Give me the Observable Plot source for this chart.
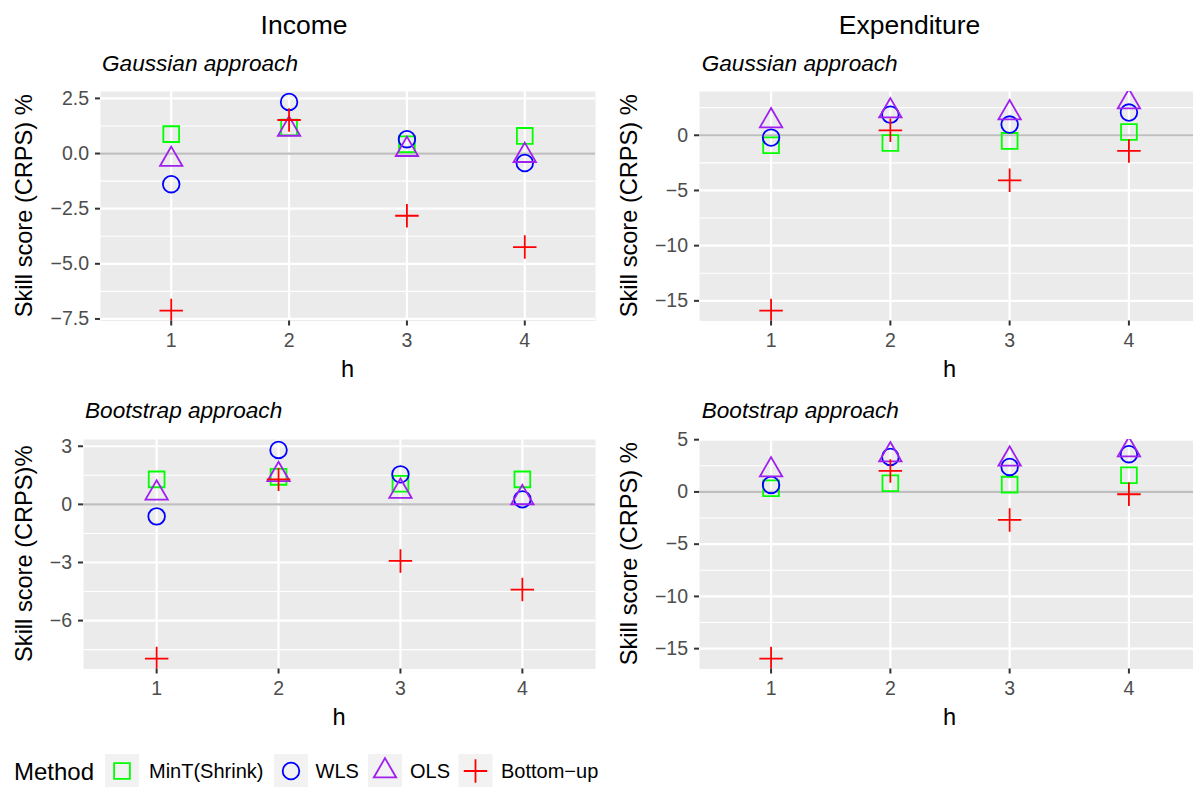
<!DOCTYPE html>
<html><head><meta charset="utf-8">
<script src="https://cdn.jsdelivr.net/npm/d3@7"></script>
<script src="https://cdn.jsdelivr.net/npm/@observablehq/plot@0.6"></script>
<style>
body{margin:0;background:#fff;}
#root{position:relative;width:1193px;height:787px;overflow:hidden;font-family:"Liberation Sans",Arial,Helvetica,sans-serif;background:#fff;}
#root > svg{position:absolute;}
</style></head><body><div id="root"></div>
<script>
// ---------- data ----------
const hs = [1, 2, 3, 4];
const methods = ["MinT(Shrink)", "WLS", "OLS", "Bottom\u2212up"];
const methodColors = ["#00FF00", "#0000FF", "#A020F0", "#FF0000"];

// Income, Gaussian approach
const incGaussMinT = [0.88, 1.18, 0.42, 0.80];
const incGaussWLS  = [-1.39, 2.34, 0.65, -0.43];
const incGaussOLS  = [-0.27, 1.10, 0.18, -0.09];
const incGaussBU   = [-7.12, 1.52, -2.82, -4.24];
// Expenditure, Gaussian approach
const expGaussMinT = [-0.91, -0.70, -0.51, 0.30];
const expGaussWLS  = [-0.21, 1.87, 0.97, 2.06];
const expGaussOLS  = [1.30, 2.20, 2.03, 3.02];
const expGaussBU   = [-15.88, 0.45, -4.08, -1.42];
// Income, Bootstrap approach
const incBootMinT = [1.29, 1.42, 1.06, 1.29];
const incBootWLS  = [-0.62, 2.81, 1.55, 0.26];
const incBootOLS  = [0.58, 1.53, 0.67, 0.34];
const incBootBU   = [-7.96, 1.29, -2.92, -4.40];
// Expenditure, Bootstrap approach
const expBootMinT = [0.35, 0.83, 0.70, 1.60];
const expBootWLS  = [0.67, 3.35, 2.39, 3.61];
const expBootOLS  = [2.10, 3.54, 3.13, 4.02];
const expBootBU   = [-15.95, 2.01, -2.68, -0.22];

// y tick values
const incGaussTicks = [-7.5, -5, -2.5, 0, 2.5];
const expGaussTicks = [-15, -10, -5, 0];
const incBootTicks  = [-6, -3, 0, 3];
const expBootTicks  = [-15, -10, -5, 0, 5];

const colTitles = ["Income", "Expenditure"];
const rowTitles = ["Gaussian approach", "Bootstrap approach"];
const yTitles = ["Skill score (CRPS) %", "Skill score (CRPS) %", "Skill score (CRPS)%", "Skill score (CRPS) %"];
const xTitle = "h";
const legendTitle = "Method";

// ---------- symbols (R pch 0,1,2,3 style) ----------
const symSquare = {draw(ctx, size){const r=Math.sqrt(size/Math.PI), s=0.95*r; ctx.moveTo(-s,-s); ctx.lineTo(s,-s); ctx.lineTo(s,s); ctx.lineTo(-s,s); ctx.closePath();}};
const symCircle = {draw(ctx, size){const r=Math.sqrt(size/Math.PI); ctx.moveTo(r,0); ctx.arc(0,0,r,0,2*Math.PI); ctx.closePath();}};
const symTriangle = {draw(ctx, size){const r=Math.sqrt(size/Math.PI); ctx.moveTo(0,-1.555*r); ctx.lineTo(1.3468*r,0.7776*r); ctx.lineTo(-1.3468*r,0.7776*r); ctx.closePath();}};
const symPlus = {draw(ctx, size){const r=Math.sqrt(size/Math.PI), a=1.414*r; ctx.moveTo(-a,0); ctx.lineTo(a,0); ctx.moveTo(0,-a); ctx.lineTo(0,a);}};
const symbols = [symSquare, symCircle, symTriangle, symPlus];
const R = 8.3, SW = 1.8;

const FONT = '"Liberation Sans",Arial,Helvetica,sans-serif';
const root = document.getElementById("root");

const panels = [
  {series:[incGaussMinT,incGaussWLS,incGaussOLS,incGaussBU], ticks:incGaussTicks, fmt:d3.format(".1f"), left:0,   top:81,  mL:100, mR:5, yTitle:yTitles[0]},
  {series:[expGaussMinT,expGaussWLS,expGaussOLS,expGaussBU], ticks:expGaussTicks, fmt:d3.format("d"),   left:600, top:81,  mL:99,  mR:0, yTitle:yTitles[1]},
  {series:[incBootMinT,incBootWLS,incBootOLS,incBootBU],     ticks:incBootTicks,  fmt:d3.format("d"),   left:0,   top:429, mL:83,  mR:5, yTitle:yTitles[2]},
  {series:[expBootMinT,expBootWLS,expBootOLS,expBootBU],     ticks:expBootTicks,  fmt:d3.format("d"),   left:600, top:429, mL:99,  mR:0, yTitle:yTitles[3]}
];
const PANEL_H = 229.5, MT = 10, MB = 50;

for (const p of panels) {
  const all = p.series.flat();
  const lo = d3.min(all), hi = d3.max(all), pad = (hi - lo) * 0.05;
  const domain = [lo - pad, hi + pad];
  const step = p.ticks[1] - p.ticks[0];
  const minor = [];
  for (let t = p.ticks[0] - step; t <= p.ticks[p.ticks.length-1] + step; t += step) {
    const m = t + step/2;
    if (m >= domain[0] && m <= domain[1] && !p.ticks.includes(m)) minor.push(m);
  }
  const dots = p.series.map((vals, i) =>
    Plot.dot(hs.map((h, j) => ({h, v: vals[j]})), {x:"h", y:"v", r:R, symbol:symbols[i], stroke:methodColors[i], fill:"none", strokeWidth:SW, clip:true})
  );
  const svg = Plot.plot({
    width: 600, height: PANEL_H + MT + MB,
    marginLeft: p.mL, marginRight: p.mR, marginTop: MT, marginBottom: MB,
    x: {domain:[0.4, 4.6]},
    y: {domain},
    style: {fontFamily: FONT, fontSize: "19.5px", background: "transparent", overflow: "visible"},
    marks: [
      Plot.frame({fill:"#EBEBEB", stroke:null}),
      Plot.ruleY(minor, {stroke:"#FFFFFF", strokeWidth:1.1}),
      Plot.ruleY(p.ticks, {stroke:"#FFFFFF", strokeWidth:2.2}),
      Plot.ruleX(hs, {stroke:"#FFFFFF", strokeWidth:2.2}),
      Plot.ruleY([0], {stroke:"#BEBEBE", strokeWidth:2.2}),
      ...dots,
      Plot.axisX({ticks: hs, tickSize:5, tickPadding:7, stroke:"#333333", strokeWidth:2, fill:"#4D4D4D", tickFormat: d => String(d), label:null}),
      Plot.axisY({ticks: p.ticks, tickSize:5, tickPadding:6.5, stroke:"#333333", strokeWidth:2, fill:"#4D4D4D", tickFormat: p.fmt, label:null})
    ]
  });
  svg.style.left = p.left + "px";
  svg.style.top = p.top + "px";
  root.appendChild(svg);
}

// ---------- titles, axis titles and legend ----------
const ov = d3.create("svg").attr("width", 1193).attr("height", 787)
  .style("left","0px").style("top","0px").style("font-family", FONT).style("pointer-events","none");

// column titles
[[304, colTitles[0]], [909.5, colTitles[1]]].forEach(([x, t]) =>
  ov.append("text").attr("x", x).attr("y", 34.3).attr("text-anchor","middle").attr("font-size", 26.5).attr("fill","#000").text(t));
// row subtitles
[[102, 70.7, rowTitles[0]], [701.7, 70.7, rowTitles[0]], [85, 418.3, rowTitles[1]], [701.7, 418.3, rowTitles[1]]].forEach(([x, y, t]) =>
  ov.append("text").attr("x", x).attr("y", y).attr("font-size", 22.6).attr("font-style","italic").attr("fill","#000").text(t));
// x titles
[[347.5, 376.7], [949.5, 376.7], [339, 724.7], [949.5, 724.7]].forEach(([x, y]) =>
  ov.append("text").attr("x", x).attr("y", y).attr("text-anchor","middle").attr("font-size", 23.6).attr("fill","#000").text(xTitle));
// y titles
[[32, 205.75, 0], [637, 205.75, 1], [32, 553.75, 2], [637, 553.75, 3]].forEach(([x, y, i]) =>
  ov.append("text").attr("transform", `translate(${x},${y}) rotate(-90)`).attr("text-anchor","middle").attr("font-size", 23.6).attr("fill","#000").text(yTitles[i]));

// legend
const LCY = 771, KEY = 34;
ov.append("text").attr("x", 14).attr("y", LCY + 8.5).attr("font-size", 24).attr("fill","#000").text(legendTitle);
const keyX = [105, 274, 368, 458.5];
const labX = [149, 315.5, 410, 501];
methods.forEach((m, i) => {
  ov.append("rect").attr("x", keyX[i]).attr("y", LCY - KEY/2).attr("width", KEY).attr("height", KEY).attr("fill", "#F2F2F2");
  ov.append("path").attr("transform", `translate(${keyX[i] + KEY/2},${LCY})`)
    .attr("d", d3.symbol(symbols[i], Math.PI*R*R)()).attr("fill","none").attr("stroke", methodColors[i]).attr("stroke-width", SW);
  ov.append("text").attr("x", labX[i]).attr("y", LCY + 7).attr("font-size", 20).attr("fill","#000").text(m);
});
root.appendChild(ov.node());
</script></body></html>
